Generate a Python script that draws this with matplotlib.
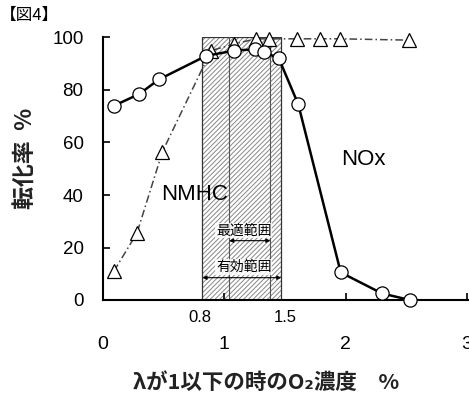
import matplotlib
matplotlib.use("Agg")
import matplotlib.pyplot as plt
import matplotlib.patches as mpatches

JP = ["Noto Sans CJK JP", "DejaVu Sans"]
NUM = ["Liberation Sans", "DejaVu Sans"]

# ── Data ────────────────────────────────────────────────────
nox_x = [0.09, 0.30, 0.46, 0.85, 1.08, 1.25, 1.33, 1.45, 1.61, 1.96, 2.30, 2.53]
nox_y = [74.0, 78.5, 84.0, 93.0, 95.0, 95.5, 94.5, 92.0, 74.5, 10.5, 2.5, 0.0]

nmhc_x = [0.09, 0.28, 0.49, 0.89, 1.08, 1.26, 1.37, 1.60, 1.79, 1.95, 2.52]
nmhc_y = [11.0, 25.5, 56.5, 95.0, 97.5, 99.5, 99.5, 99.5, 99.5, 99.5, 99.0]

effective_range = (0.82, 1.47)   # 有効範囲
optimum_range   = (1.04, 1.38)   # 最適範囲

x_ticks       = [0, 1, 2, 3]
x_minor_ticks = [0.8, 1.5]
y_ticks       = [0, 20, 40, 60, 80, 100]

# ── Figure ──────────────────────────────────────────────────
plt.rcParams["hatch.linewidth"] = 0.7
fig = plt.figure(figsize=(4.69, 3.94), dpi=100)
ax = fig.add_axes([103 / 469, 94 / 394, 366 / 469, 262.5 / 394])
ax.set_xlim(0, 366 / 121.3)
ax.set_ylim(0, 100)

# hatched window
lo, hi = effective_range
ax.add_patch(mpatches.Rectangle((lo, 0), hi - lo, 100, facecolor="white",
                                edgecolor="#888888", hatch="///////", lw=0, zorder=1))
ax.add_patch(mpatches.Rectangle((lo, 0), hi - lo, 100, facecolor="none",
                                edgecolor="#333333", lw=0.9, zorder=2))
for xv in optimum_range:
    ax.axvline(xv, ymax=1.0, color="#555555", lw=0.8, zorder=2)

# range arrows and captions
arrow = dict(arrowstyle="<|-|>", color="black", lw=0.8, mutation_scale=6,
             shrinkA=0, shrinkB=0)
ax.annotate("", xy=(optimum_range[0], 22.6), xytext=(optimum_range[1], 22.6),
            arrowprops=arrow, zorder=3)
ax.annotate("", xy=(effective_range[0], 8.5), xytext=(effective_range[1], 8.5),
            arrowprops=arrow, zorder=3)
box = dict(facecolor="white", edgecolor="none", pad=0.5, alpha=0.8)
ax.text(1.16, 26.5, "最適範囲", family=JP, fontsize=10, ha="center", va="center",
        bbox=box, zorder=3)
ax.text(1.16, 12.6, "有効範囲", family=JP, fontsize=10, ha="center", va="center",
        bbox=box, zorder=3)

# series
ax.plot(nmhc_x, nmhc_y, color="#444444", lw=1.1, linestyle=(0, (5, 2, 1, 2)),
        marker="^", markersize=10, markerfacecolor="white",
        markeredgecolor="black", markeredgewidth=0.9, zorder=4, clip_on=False)
ax.plot(nox_x, nox_y, color="black", lw=1.8, marker="o", markersize=9.5,
        markerfacecolor="white", markeredgecolor="black",
        markeredgewidth=0.9, zorder=5, clip_on=False)

ax.text(0.48, 40, "NMHC", family=NUM, fontsize=16, ha="left", va="center", zorder=6)
ax.text(1.96, 53.5, "NOx", family=NUM, fontsize=16, ha="left", va="center", zorder=6)

# axes styling
for side in ("top", "right"):
    ax.spines[side].set_visible(False)
for side in ("left", "bottom"):
    ax.spines[side].set_linewidth(1.5)

ax.set_yticks(y_ticks)
ax.set_yticklabels([str(v) for v in y_ticks], family=NUM, fontsize=13.5)
ax.tick_params(axis="y", direction="in", length=5, width=1.2, pad=14)

ax.set_xticks(x_ticks)
ax.set_xticklabels([str(v) for v in x_ticks], family=NUM, fontsize=14)
ax.tick_params(axis="x", which="major", direction="in", length=5, width=1.2, pad=26)
ax.set_xticks(x_minor_ticks, minor=True)
ax.set_xticklabels([str(v) for v in x_minor_ticks], minor=True, family=NUM, fontsize=12)
ax.tick_params(axis="x", which="minor", length=0, pad=7)

ax.set_ylabel("転化率  %", family=JP, fontsize=16.5, fontweight="bold", color="#222222")
ax.yaxis.set_label_coords(-0.18, 0.54)
fig.text(266 / 469, 1 - 382 / 394, "λが1以下の時のO₂濃度　%", family=JP,
         fontsize=15.5, fontweight="bold", color="#222222", ha="center", va="center")
fig.text(0.0, 1 - 15 / 394, "【図4】", family=JP, fontsize=12,
         ha="left", va="center")

fig.savefig("out.png", dpi=100)
